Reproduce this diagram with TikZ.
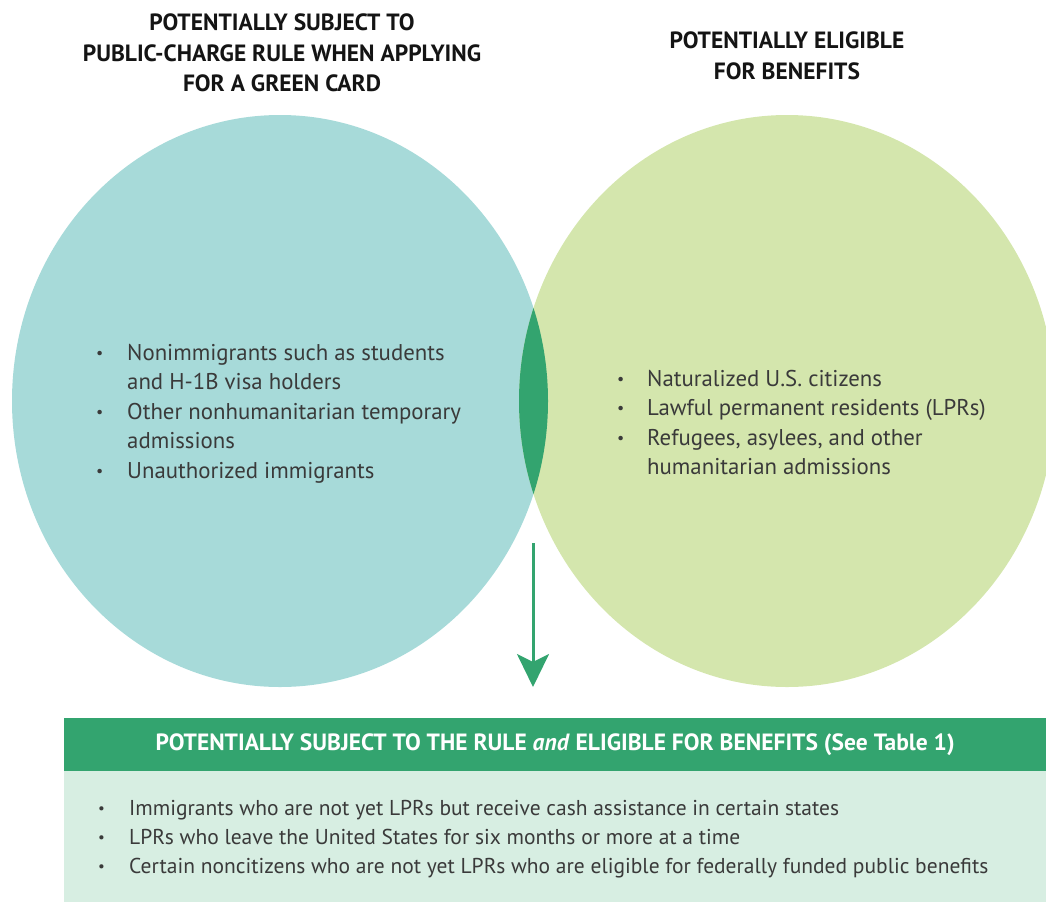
\documentclass[tikz,border=0pt]{standalone}
\usepackage{fontspec}
\setmainfont{PT Sans}
\usetikzlibrary{arrows.meta, positioning}
\definecolor{subjectTeal}{HTML}{A7DAD9}
\definecolor{eligibleLime}{HTML}{D4E6AD}
\definecolor{bothGreen}{HTML}{33A46F}
\definecolor{bothPale}{HTML}{D7EEE2}
\definecolor{listGray}{HTML}{3A3A3A}
\tikzset{
    grouptitle/.style={
        align=center, font=\fontsize{23.5}{30.5}\selectfont\bfseries, text=black!92, inner sep=0pt
    },
    bulletlist/.style={
        align=left, font=\fontsize{22.8}{29.5}\selectfont, text=listGray, inner sep=0pt
    },
    bandlist/.style={
        bulletlist, font=\fontsize{21.5}{29}\selectfont
    },
    bandhead/.style={
        rectangle, fill=bothGreen, text=white, inner sep=0pt,
        font=\fontsize{23.5}{26}\selectfont\bfseries
    },
    bandbody/.style={
        rectangle, fill=bothPale, inner sep=0pt
    },
    down_arrow/.style={
        -{Stealth[length=33pt, width=32pt, inset=8pt]}, draw=bothGreen, line width=3pt
    }
}
% small bullet for the item lists
\newcommand{\bul}{\raisebox{0.15ex}{\scalebox{0.7}{\textbullet}}}

\begin{document}
\begin{tikzpicture}[x=1pt, y=-1pt]
    \useasboundingbox (0,0) rectangle (1046,902);

    % Venn circles
    \coordinate (subjc) at (280,401);
    \coordinate (eligc) at (787,401);
    \fill[subjectTeal] (subjc) ellipse [x radius=268pt, y radius=286pt];
    \fill[eligibleLime] (eligc) ellipse [x radius=268pt, y radius=286pt];
    \begin{scope}
        \clip (subjc) ellipse [x radius=268pt, y radius=286pt];
        \fill[bothGreen] (eligc) ellipse [x radius=268pt, y radius=286pt];
    \end{scope}

    % Headings above the circles
    \node[grouptitle] (subjtitle) at (282,53) {POTENTIALLY SUBJECT TO\\PUBLIC-CHARGE RULE WHEN APPLYING\\FOR A GREEN CARD};
    \node[grouptitle] (eligtitle) at (787,56) {POTENTIALLY ELIGIBLE\\FOR BENEFITS};

    % Left circle list
    \node[bulletlist, anchor=base west] (subjlist) at (96,360) {%
        \begin{tabular}[t]{@{}p{31pt}@{}l@{}}
        \bul & Nonimmigrants such as students\\
             & and H-1B visa holders\\
        \bul & Other nonhumanitarian temporary\\
             & admissions\\
        \bul & Unauthorized immigrants
        \end{tabular}};

    % Right circle list
    \node[bulletlist, anchor=base west] (eliglist) at (617,386) {%
        \begin{tabular}[t]{@{}p{30pt}@{}l@{}}
        \bul & Naturalized U.S. citizens\\
        \bul & Lawful permanent residents (LPRs)\\
        \bul & Refugees, asylees, and other\\
             & humanitarian admissions
        \end{tabular}};

    % Overlap band at the bottom
    \node[bandhead, minimum width=982pt, minimum height=53pt, anchor=north west] (bothhead) at (64,718)
        {POTENTIALLY SUBJECT TO THE RULE \textit{and} ELIGIBLE FOR BENEFITS (See Table 1)};
    \node[bandbody, minimum width=982pt, minimum height=131pt, anchor=north west] (bothbody) at (64,771) {};
    \node[bandlist, anchor=base west] (bothlist) at (98,815) {%
        \begin{tabular}[t]{@{}p{31pt}@{}l@{}}
        \bul & Immigrants who are not yet LPRs but receive cash assistance in certain states\\
        \bul & LPRs who leave the United States for six months or more at a time\\
        \bul & Certain noncitizens who are not yet LPRs who are eligible for federally funded public benefits
        \end{tabular}};

    % Arrow from the overlap down to the band
    \coordinate (lensfoot) at (533,543);
    \coordinate (bandtop) at (533,687);
    \draw[down_arrow] (lensfoot) -- (bandtop);

\end{tikzpicture}
\end{document}
